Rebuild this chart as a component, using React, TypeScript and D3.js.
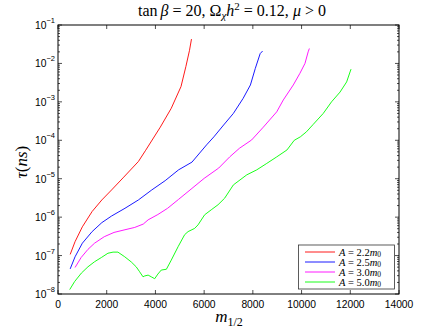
import React from "react";
import * as d3 from "d3";

const xTicks = [0, 2000, 4000, 6000, 8000, 10000, 12000, 14000];
const yExps = [-1, -2, -3, -4, -5, -6, -7, -8];

const redX = [500, 700, 1000, 1400, 1800, 2200, 2700, 3300, 3600, 4200, 4650, 5050, 5250, 5400, 5480];
const redY = [1.07e-7, 2.3e-7, 5.6e-7, 1.4e-6, 2.8e-6, 5.1e-6, 1.1e-5, 2.8e-5, 5.5e-5, 2.2e-4, 6.8e-4, 2.5e-3, 8.3e-3, 2.2e-2, 4.3e-2];

const blueX = [500, 700, 1000, 1400, 1800, 2200, 2750, 3300, 3850, 4400, 4950, 5500, 6100, 6400, 6800, 7200, 7600, 7900, 8100, 8300, 8400];
const blueY = [4.5e-8, 9.3e-8, 2.1e-7, 4.2e-7, 7.2e-7, 1.07e-6, 1.7e-6, 2.8e-6, 5.1e-6, 8.9e-6, 1.7e-5, 2.7e-5, 7.6e-5, 1.23e-4, 2.5e-4, 5e-4, 1.23e-3, 2.75e-3, 7.4e-3, 1.8e-2, 2.1e-2];

const magX = [700, 950, 1230, 1500, 1900, 2300, 2750, 3150, 3500, 3700, 4100, 4500, 4950, 5500, 6000, 6600, 7050, 7450, 7950, 8430, 8980, 9250, 9660, 9930, 10140, 10270, 10320];
const magY = [4.9e-8, 8.9e-8, 1.45e-7, 2.1e-7, 3.1e-7, 4.0e-7, 4.7e-7, 5.4e-7, 6.6e-7, 8.5e-7, 1.17e-6, 1.7e-6, 2.9e-6, 5.6e-6, 1.02e-5, 1.9e-5, 3.7e-5, 6.2e-5, 1.02e-4, 2.2e-4, 5.5e-4, 1.12e-3, 2.75e-3, 5.5e-3, 1.0e-2, 2.0e-2, 2.45e-2];

const greenX = [480, 680, 960, 1230, 1500, 1780, 2050, 2260, 2460, 2740, 3010, 3210, 3350, 3490, 3560, 3700, 3830, 3970, 4100, 4240, 4450, 4650, 4930, 5200, 5340, 5610, 5750, 6020, 6290, 6570, 6840, 7200, 7750, 8160, 8570, 8980, 9400, 9700, 9950, 10200, 10480, 10890, 11230, 11580, 11850, 11990, 12030];
const greenY = [1.3e-8, 2.1e-8, 3.5e-8, 5.1e-8, 6.9e-8, 8.9e-8, 1.15e-7, 1.23e-7, 1.23e-7, 9.3e-8, 6.8e-8, 5.1e-8, 3.8e-8, 2.8e-8, 2.95e-8, 3.1e-8, 2.8e-8, 2.5e-8, 3.3e-8, 4.2e-8, 4.4e-8, 7.6e-8, 1.7e-7, 3.5e-7, 4.2e-7, 5.1e-7, 6.3e-7, 1.15e-6, 1.55e-6, 2.1e-6, 3.1e-6, 6.9e-6, 1.26e-5, 1.7e-5, 2.5e-5, 3.7e-5, 5.6e-5, 1.0e-4, 1.23e-4, 1.66e-4, 2.6e-4, 5.0e-4, 1.0e-3, 1.8e-3, 3.3e-3, 6.0e-3, 7.1e-3];

const seriesColors = ["#ff0000", "#0000ff", "#ff00ff", "#00ff00"];
const seriesLabels = ["2.2", "2.5", "3.0", "5.0"];
const seriesData = [
  [redX, redY],
  [blueX, blueY],
  [magX, magY],
  [greenX, greenY],
];

const W = 441;
const H = 332;
const L = 58, R = 399, T = 25, B = 294;

export default function App() {
  const x = d3.scaleLinear().domain([0, 14000]).range([L, R]);
  const y = d3.scaleLog().domain([1e-8, 1e-1]).range([B, T]);
  const line = d3
    .line<[number, number]>()
    .x((d) => x(d[0]))
    .y((d) => y(d[1]));

  const minor: number[] = [];
  for (let e = -8; e < -1; e++) {
    for (let m = 2; m <= 9; m++) minor.push(m * Math.pow(10, e));
  }

  const sans = "'Liberation Sans', Arial, sans-serif";
  const serif = "'Liberation Serif', 'DejaVu Serif', serif";

  return (
    <svg width={W} height={H} style={{ position: "absolute", left: 0, top: 0, background: "#fff" }}>
      <rect x={0} y={0} width={W} height={H} fill="#fff" />
      <g fill="none" strokeWidth={0.9}>
        {seriesData.map(([xs, ys], i) => (
          <path
            key={i}
            d={line(xs.map((v, j) => [v, ys[j]] as [number, number])) || ""}
            stroke={seriesColors[i]}
          />
        ))}
      </g>
      <g stroke="#000" strokeWidth={0.7}>
        {xTicks.map((t) => (
          <g key={t}>
            <line x1={x(t)} x2={x(t)} y1={B} y2={B - 4} />
            <line x1={x(t)} x2={x(t)} y1={T} y2={T + 4} />
          </g>
        ))}
        {yExps.map((e) => (
          <g key={e}>
            <line x1={L} x2={L + 4} y1={y(Math.pow(10, e))} y2={y(Math.pow(10, e))} />
            <line x1={R} x2={R - 4} y1={y(Math.pow(10, e))} y2={y(Math.pow(10, e))} />
          </g>
        ))}
        {minor.map((m, i) => (
          <g key={i}>
            <line x1={L} x2={L + 2} y1={y(m)} y2={y(m)} />
            <line x1={R} x2={R - 2} y1={y(m)} y2={y(m)} />
          </g>
        ))}
      </g>
      <rect x={L} y={T} width={R - L} height={B - T} fill="none" stroke="#000" strokeWidth={1} />
      <g fontFamily={sans} fontSize={10.3} textAnchor="middle" fill="#000">
        {xTicks.map((t) => (
          <text key={t} x={x(t)} y={308}>
            {t}
          </text>
        ))}
      </g>
      <g fontFamily={sans} fill="#000">
        {yExps.map((e) => (
          <text key={e} x={35} y={y(Math.pow(10, e)) + 4} fontSize={10.3}>
            10
            <tspan dy={-6} fontSize={7.5}>
              {"\u2212" + Math.abs(e)}
            </tspan>
          </text>
        ))}
      </g>
      <text x={232} y={16} textAnchor="middle" fontFamily={serif} fontSize={16} fill="#000">
        tan
        <tspan fontStyle="italic" dx={3}>β</tspan>
        <tspan> = 20, Ω</tspan>
        <tspan fontStyle="italic" fontSize={11} dy={3}>χ</tspan>
        <tspan fontStyle="italic" dy={-3}>h</tspan>
        <tspan fontSize={11} dy={-6}>2</tspan>
        <tspan dy={6}> = 0.12, </tspan>
        <tspan fontStyle="italic">μ</tspan>
        <tspan> &gt; 0</tspan>
      </text>
      <text x={229} y={322} textAnchor="middle" fontFamily={serif} fontSize={17} fill="#000">
        <tspan fontStyle="italic">m</tspan>
        <tspan fontSize={12} dy={4}>1/2</tspan>
      </text>
      <text
        transform="translate(27,162) rotate(-90)"
        textAnchor="middle"
        fontFamily={serif}
        fontSize={17}
        fill="#000"
      >
        <tspan fontStyle="italic">τ</tspan>(<tspan fontStyle="italic">ns</tspan>)
      </text>
      <rect x={298.5} y={245} width={96} height={44} fill="#fff" stroke="#333" strokeWidth={0.8} />
      {seriesLabels.map((lab, i) => {
        const ly = 252 + i * 10;
        return (
          <g key={lab}>
            <line x1={305} x2={335} y1={ly} y2={ly} stroke={seriesColors[i]} strokeWidth={0.9} />
            <text x={339} y={ly + 3.5} fontFamily={serif} fontSize={10.5} fill="#000">
              <tspan fontStyle="italic">A</tspan> = {lab}
              <tspan fontStyle="italic">m</tspan>
              <tspan fontSize={7.5} dy={1.5}>0</tspan>
            </text>
          </g>
        );
      })}
    </svg>
  );
}
